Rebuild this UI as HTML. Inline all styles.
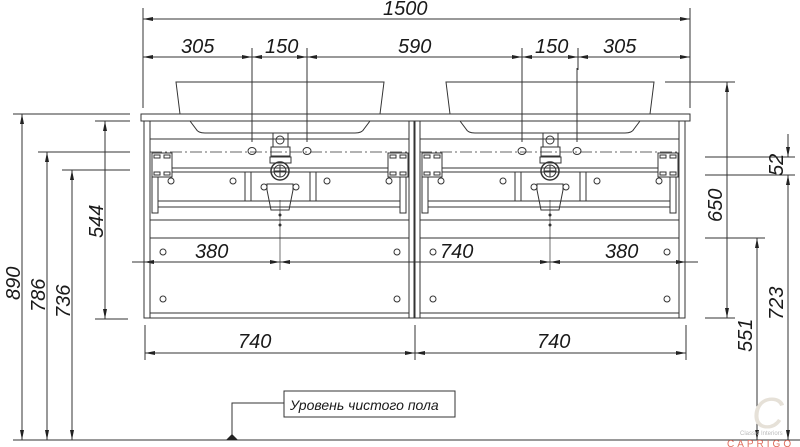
<!DOCTYPE html>
<html><head><meta charset="utf-8"><style>
html,body{margin:0;padding:0;background:#fff;}
svg{display:block;}
text{font-family:"Liberation Sans",sans-serif;font-style:italic;fill:#1a1a1a;}
</style></head><body>
<svg width="800" height="447" viewBox="0 0 800 447" xmlns="http://www.w3.org/2000/svg">
<defs>
<marker id="a" viewBox="0 0 10 4" refX="10" refY="2" markerWidth="10" markerHeight="4" orient="auto-start-reverse" markerUnits="userSpaceOnUse"><path d="M0,0L10,2L0,4z" fill="#222"/></marker>
<g id="cab" stroke="#333" stroke-width="1" fill="none">
  <rect x="144" y="121" width="6" height="197"/>
  <rect x="409" y="121" width="6" height="197"/>
  <line x1="150" y1="139" x2="409" y2="139"/>
  <path d="M190,121 L196,129 Q198,133 205,133 L355,133 Q362,133 364,129 L370,121"/>
  <line x1="252" y1="68" x2="252" y2="142"/>
  <line x1="307" y1="68" x2="307" y2="142"/>
  <ellipse cx="252" cy="151" rx="4" ry="3.5"/><ellipse cx="307" cy="151" rx="4" ry="3.5"/>
  <line x1="150" y1="152" x2="409" y2="152" stroke-dasharray="12 3 2 3" stroke-width="0.7"/>
  <rect x="152" y="153" width="20" height="24"/><rect x="154" y="155" width="6" height="3"/><rect x="164" y="155" width="6" height="3"/><rect x="154" y="172" width="6" height="3"/><rect x="164" y="172" width="6" height="3"/>
  <rect x="388" y="153" width="20" height="24"/><rect x="390" y="155" width="6" height="3"/><rect x="400" y="155" width="6" height="3"/><rect x="390" y="172" width="6" height="3"/><rect x="400" y="172" width="6" height="3"/>
  <rect x="152" y="177" width="6" height="36"/><rect x="400" y="177" width="6" height="36"/>
  <line x1="172" y1="168" x2="388" y2="168"/><line x1="172" y1="172" x2="388" y2="172"/>
  <rect x="245" y="172" width="6" height="29"/><rect x="310" y="172" width="6" height="29"/>
  <circle cx="171" cy="181" r="3"/><circle cx="233" cy="181" r="3"/><circle cx="327" cy="181" r="3"/><circle cx="389" cy="181" r="3"/>
  <line x1="158" y1="201" x2="400" y2="201"/><line x1="158" y1="207" x2="400" y2="207"/>
  <line x1="150" y1="220" x2="409" y2="220"/><line x1="150" y1="238" x2="409" y2="238"/>
  <line x1="150" y1="313" x2="409" y2="313"/><line x1="144" y1="318" x2="415" y2="318"/>
  <circle cx="163" cy="252" r="3"/><circle cx="397" cy="252" r="3"/><circle cx="163" cy="299" r="3"/><circle cx="397" cy="299" r="3"/>
  <rect x="273" y="133" width="15" height="14"/><circle cx="280" cy="140" r="4"/>
  <rect x="271" y="147" width="19" height="9"/><rect x="270" y="157" width="21" height="6"/>
  <circle cx="280" cy="171" r="9" stroke-width="1.5"/><circle cx="280" cy="171" r="6"/>
  <line x1="274" y1="171" x2="286" y2="171"/><line x1="280" y1="165" x2="280" y2="177"/>
  <path d="M267,184 L293,184 L293,190 L289,210 L271,210 L267,190 Z"/>
  <circle cx="264" cy="187" r="3"/><circle cx="296" cy="187" r="3"/>
  <line x1="280" y1="200" x2="280" y2="270" stroke-width="0.7"/>
  <circle cx="280" cy="215" r="1" fill="#333"/><circle cx="280" cy="225" r="1" fill="#333"/>
</g>
</defs>
<g stroke="#333" stroke-width="1" fill="none">
  <line x1="143" y1="8" x2="143" y2="108"/><line x1="690" y1="8" x2="690" y2="108"/>
  <line x1="143" y1="19" x2="690" y2="19" marker-start="url(#a)" marker-end="url(#a)"/>
  <line x1="143" y1="57" x2="252" y2="57" marker-start="url(#a)" marker-end="url(#a)"/>
  <line x1="252" y1="57" x2="307" y2="57" marker-start="url(#a)" marker-end="url(#a)"/>
  <line x1="307" y1="57" x2="522" y2="57" marker-start="url(#a)" marker-end="url(#a)"/>
  <line x1="522" y1="57" x2="578" y2="57" marker-start="url(#a)" marker-end="url(#a)"/>
  <line x1="578" y1="57" x2="690" y2="57" marker-start="url(#a)" marker-end="url(#a)"/>
  <line x1="252" y1="48" x2="252" y2="70"/><line x1="307" y1="48" x2="307" y2="70"/>
  <line x1="522" y1="48" x2="522" y2="70"/><line x1="578" y1="48" x2="578" y2="70"/>
  <path d="M176,82 L384,82 L380,114 L180,114 Z"/>
  <path d="M446,82 L654,82 L650,114 L450,114 Z"/>
  <rect x="141" y="114" width="549" height="7"/>
  <line x1="13" y1="114" x2="130" y2="114"/>
  <line x1="38" y1="152" x2="130" y2="152"/>
  <line x1="62" y1="170" x2="130" y2="170"/>
  <line x1="95" y1="121" x2="130" y2="121"/>
  <line x1="95" y1="319" x2="128" y2="319"/>
  <line x1="22" y1="114" x2="22" y2="440" marker-start="url(#a)" marker-end="url(#a)"/>
  <line x1="47" y1="152" x2="47" y2="440" marker-start="url(#a)" marker-end="url(#a)"/>
  <line x1="72" y1="170" x2="72" y2="440" marker-start="url(#a)" marker-end="url(#a)"/>
  <line x1="105" y1="121" x2="105" y2="319" marker-start="url(#a)" marker-end="url(#a)"/>
  <line x1="13" y1="440" x2="800" y2="440"/>
  <line x1="665" y1="82" x2="735" y2="82"/><line x1="690" y1="80" x2="690" y2="103"/>
  <line x1="705" y1="157" x2="795" y2="157"/><line x1="705" y1="175" x2="795" y2="175"/>
  <line x1="705" y1="238" x2="765" y2="238"/><line x1="705" y1="318" x2="735" y2="318"/>
  <line x1="727" y1="82" x2="727" y2="318" marker-start="url(#a)" marker-end="url(#a)"/>
  <line x1="788" y1="134" x2="788" y2="157" marker-end="url(#a)"/>
  <line x1="788" y1="175" x2="788" y2="440" marker-start="url(#a)" marker-end="url(#a)"/>
  <line x1="757" y1="238" x2="757" y2="440" marker-start="url(#a)" marker-end="url(#a)"/>
  <line x1="132" y1="262" x2="144" y2="262"/>
  <line x1="144" y1="262" x2="280" y2="262" marker-start="url(#a)" marker-end="url(#a)"/>
  <line x1="280" y1="262" x2="550" y2="262" marker-start="url(#a)" marker-end="url(#a)"/>
  <line x1="550" y1="262" x2="686" y2="262" marker-start="url(#a)" marker-end="url(#a)"/>
  <line x1="686" y1="262" x2="698" y2="262"/>
  <line x1="145" y1="325" x2="145" y2="360"/><line x1="415" y1="325" x2="415" y2="360"/><line x1="686" y1="325" x2="686" y2="360"/>
  <line x1="145" y1="353" x2="415" y2="353" marker-start="url(#a)" marker-end="url(#a)"/>
  <line x1="415" y1="353" x2="686" y2="353" marker-start="url(#a)" marker-end="url(#a)"/>
  <rect x="284" y="391" width="171" height="26"/>
  <polyline points="284,403 232,403 232,437"/>
</g>
<path d="M226,440 L232,434 L238,440 Z" fill="#222"/>
<use href="#cab"/>
<use href="#cab" transform="translate(270,0)"/>
<g font-size="20">
  <text x="383" y="15">1500</text>
  <text x="181" y="53">305</text><text x="265" y="53">150</text>
  <text x="398" y="53">590</text><text x="535" y="53">150</text><text x="603" y="53">305</text>
  <text x="195" y="258">380</text><text x="440" y="258">740</text><text x="605" y="258">380</text>
  <text x="238" y="348">740</text><text x="537" y="348">740</text>
  <text transform="translate(20,300) rotate(-90)">890</text>
  <text transform="translate(45,312) rotate(-90)">786</text>
  <text transform="translate(70,318) rotate(-90)">736</text>
  <text transform="translate(103,238) rotate(-90)">544</text>
  <text transform="translate(722,222) rotate(-90)">650</text>
  <text transform="translate(783,176) rotate(-90)">52</text>
  <text transform="translate(783,320) rotate(-90)">723</text>
  <text transform="translate(752,352) rotate(-90)">551</text>
</g>
<text x="290" y="410" font-size="14" font-family="Liberation Sans, DejaVu Sans, sans-serif">Уровень чистого пола</text>
<text x="752" y="428" font-size="44" style="fill:#e6e1d8" font-family="Liberation Serif, serif">C</text>
<text x="740" y="435" font-size="6" style="fill:#bbb;font-style:normal">Classic Interiors</text>
<text x="727" y="447" font-size="10" style="fill:#e07060;font-style:normal;letter-spacing:3px" font-family="Liberation Serif, serif">CAPRIGO</text>
</svg>
</body></html>
